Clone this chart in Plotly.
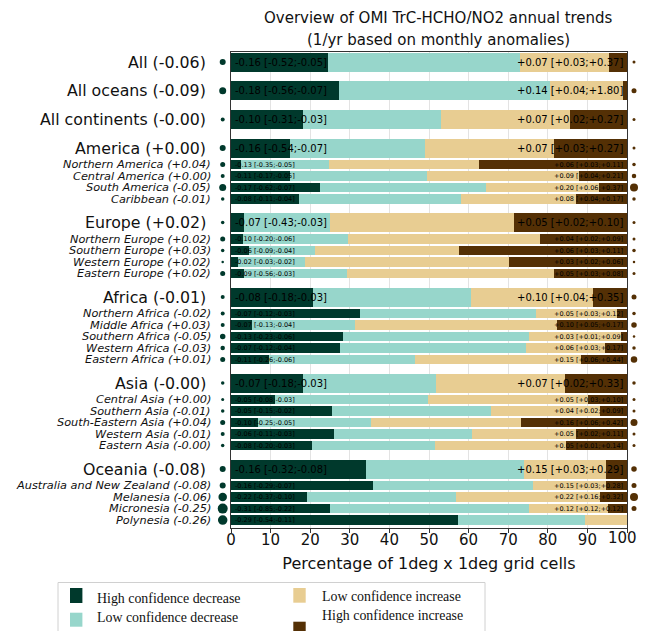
import plotly.graph_objects as go

# ---------------- data ----------------
region_labels = [
    "All (-0.06)", "All oceans (-0.09)", "All continents (-0.00)",
    "America (+0.00)", "Northern America (+0.04)", "Central America (+0.00)",
    "South America (-0.05)", "Caribbean (-0.01)",
    "Europe (+0.02)", "Northern Europe (+0.02)", "Southern Europe (+0.03)",
    "Western Europe (+0.02)", "Eastern Europe (+0.02)",
    "Africa (-0.01)", "Northern Africa (-0.02)", "Middle Africa (+0.03)",
    "Southern Africa (-0.05)", "Western Africa (-0.03)", "Eastern Africa (+0.01)",
    "Asia (-0.00)", "Central Asia (+0.00)", "Southern Asia (-0.01)",
    "South-Eastern Asia (+0.04)", "Western Asia (-0.01)", "Eastern Asia (-0.00)",
    "Oceania (-0.08)", "Australia and New Zealand (-0.08)", "Melanesia (-0.06)",
    "Micronesia (-0.25)", "Polynesia (-0.26)",
]
# 0 = aggregate region, 1 = sub-region
region_level = [0, 0, 0,
                0, 1, 1, 1, 1,
                0, 1, 1, 1, 1,
                0, 1, 1, 1, 1, 1,
                0, 1, 1, 1, 1, 1,
                0, 1, 1, 1, 1]

# percentage of grid cells in each class
high_conf_decrease = [24.6, 27.2, 18.2, 14.9, 2.6, 14.9, 22.4, 17.1,
                      3.3, 3.0, 4.5, 1.8, 3.2,
                      20.6, 32.6, 5.4, 28.2, 27.4, 9.5,
                      18.2, 11.2, 25.6, 6.8, 26.1, 20.4,
                      34.0, 35.8, 19.2, 25.0, 57.2]
low_conf_decrease = [48.4, 53.3, 34.8, 34.1, 22.1, 34.6, 41.9, 40.9,
                     21.6, 26.5, 16.7, 16.9, 26.1,
                     40.1, 44.3, 26.0, 47.0, 47.1, 37.0,
                     33.6, 38.5, 40.0, 28.6, 34.8, 31.2,
                     39.9, 40.4, 37.5, 50.2, 32.2]
low_conf_increase = [22.4, 18.5, 32.5, 32.6, 37.8, 38.3, 28.6, 29.2,
                     46.6, 48.5, 36.3, 51.5, 52.2,
                     30.8, 20.6, 50.8, 23.3, 20.0, 41.9,
                     32.5, 40.5, 27.7, 37.9, 26.1, 32.9,
                     20.7, 18.4, 36.4, 20.0, 10.6]
high_conf_increase = [4.6, 1.0, 14.5, 18.4, 37.5, 12.2, 7.1, 12.8,
                      28.5, 22.0, 42.5, 29.8, 18.5,
                      8.5, 2.5, 17.8, 1.5, 5.5, 11.6,
                      15.7, 9.8, 6.7, 26.7, 13.0, 15.5,
                      5.4, 5.4, 6.9, 4.8, 0.0]

decrease_text = [
    "-0.16 [-0.52;-0.05]", "-0.18 [-0.56;-0.07]", "-0.10 [-0.31;-0.03]",
    "-0.16 [-0.54;-0.07]", "-0.13 [-0.35;-0.05]", "-0.11 [-0.17;-0.05]",
    "-0.17 [-0.62;-0.07]", "-0.08 [-0.11;-0.04]",
    "-0.07 [-0.43;-0.03]", "-0.10 [-0.20;-0.06]", "-0.06 [-0.09;-0.04]",
    "-0.02 [-0.03;-0.02]", "-0.09 [-0.56;-0.03]",
    "-0.08 [-0.18;-0.03]", "-0.07 [-0.12;-0.03]", "-0.07 [-0.13;-0.04]",
    "-0.13 [-0.23;-0.06]", "-0.07 [-0.12;-0.04]", "-0.11 [-0.26;-0.06]",
    "-0.07 [-0.18;-0.03]", "-0.05 [-0.08;-0.03]", "-0.05 [-0.15;-0.02]",
    "-0.10 [-0.25;-0.05]", "-0.06 [-0.11;-0.03]", "-0.08 [-0.20;-0.03]",
    "-0.16 [-0.32;-0.08]", "-0.16 [-0.29;-0.07]", "-0.22 [-0.37;-0.10]",
    "-0.31 [-0.85;-0.22]", "-0.29 [-0.54;-0.11]",
]
increase_text = [
    "+0.07 [+0.03;+0.37]", "+0.14 [+0.04;+1.80]", "+0.07 [+0.02;+0.27]",
    "+0.07 [+0.03;+0.27]", "+0.06 [+0.03;+0.11]", "+0.09 [+0.04;+0.21]",
    "+0.20 [+0.06;+0.37]", "+0.08 [+0.04;+0.17]",
    "+0.05 [+0.02;+0.10]", "+0.04 [+0.02;+0.09]", "+0.06 [+0.03;+0.11]",
    "+0.03 [+0.02;+0.06]", "+0.05 [+0.03;+0.08]",
    "+0.10 [+0.04;+0.35]", "+0.05 [+0.03;+0.12]", "+0.10 [+0.05;+0.17]",
    "+0.03 [+0.01;+0.09]", "+0.06 [+0.03;+0.17]", "+0.15 [+0.06;+0.44]",
    "+0.07 [+0.02;+0.33]", "+0.05 [+0.03;+0.10]", "+0.04 [+0.02;+0.09]",
    "+0.16 [+0.06;+0.42]", "+0.05 [+0.02;+0.11]", "+0.05 [+0.01;+0.14]",
    "+0.15 [+0.03;+0.29]", "+0.15 [+0.03;+0.28]", "+0.22 [+0.16;+0.32]",
    "+0.12 [+0.12;+0.12]", "",
]
# dot diameters (px)
decrease_dot = [6, 7, 4, 6, 5, 4, 7, 3.5,
                3.5, 5, 3.5, 2.5, 5,
                4, 4, 4, 5.5, 4.5, 5,
                3.5, 3, 3.5, 5, 4, 3.5,
                6, 6, 8.5, 10, 9.5]
increase_dot = [3, 5, 3, 3, 3.5, 4.5, 8, 3.5,
                3, 3, 3.5, 2.5, 3,
                5, 3.5, 5.5, 2.5, 3.5, 6.5,
                3.5, 3, 3, 7, 3, 3,
                5.5, 5, 8, 5, 0]

x_ticks = [0, 10, 20, 30, 40, 50, 60, 70, 80, 90, 100]
x_tick_labels = [str(v) for v in x_ticks]

# ---------------- styling / layout ----------------
C_HCD = "#00392c"
C_LCD = "#97d6cb"
C_LCI = "#e8cd92"
C_HCI = "#543005"
FONT = "DejaVu Sans"

OFF = 8                      # page margin of the html body
W, H = 646 - 2 * OFF, 631 - OFF  # figure size (width is bound to the body width)
PL, PR, PT, PB = 231, 627, 52, 528   # plot area in page pixels
PW, PH = PR - PL, PB - PT


def px_x(px):
    return (px - PL) / PW


def px_y(py):
    return (PB - py) / PH


# row positions (in pixel-like units; axis reversed)
gaps = {(0, 0): 28.7, (0, 1): 16.5, (1, 1): 11.5, (1, 0): 23.5}
ypos = []
cur = 62.0
for i, lev in enumerate(region_level):
    if i > 0:
        cur += gaps[(region_level[i - 1], lev)]
    ypos.append(cur)
widths = [19 if lev == 0 else 9.3 for lev in region_level]

fig = go.Figure()
for vals, col, name in [(high_conf_decrease, C_HCD, "High confidence decrease"),
                        (low_conf_decrease, C_LCD, "Low confidence decrease"),
                        (low_conf_increase, C_LCI, "Low confidence increase"),
                        (high_conf_increase, C_HCI, "High confidence increase")]:
    fig.add_trace(go.Bar(x=vals, y=ypos, width=widths, orientation="h",
                         marker=dict(color=col, line=dict(width=0)),
                         name=name, showlegend=False, hoverinfo="skip"))

shapes = []
# dots beside the bars
for i, y in enumerate(ypos):
    for xpx, d, col in [(222.7, decrease_dot[i], C_HCD), (634.0, increase_dot[i], C_HCI)]:
        if d <= 0:
            continue
        shapes.append(dict(type="circle", xref="paper", yref="paper",
                           xsizemode="pixel", ysizemode="pixel",
                           xanchor=px_x(xpx), yanchor=px_y(y),
                           x0=-d / 2, x1=d / 2, y0=-d / 2, y1=d / 2,
                           fillcolor=col, line=dict(width=0), layer="above"))

ann = []
for i, lab in enumerate(region_labels):
    main = region_level[i] == 0
    ann.append(dict(x=px_x(208 if main else 213), xref="paper", y=ypos[i], yref="y",
                    text=lab if main else "<i>" + lab + "</i>",
                    xanchor="right", yanchor="middle", showarrow=False,
                    font=dict(family=FONT, size=15.8 if main else 11.3, color="#111")))
    fs = 10 if main else 6.5
    ann.append(dict(x=0.4, xref="x", y=ypos[i], yref="y", text=decrease_text[i],
                    xanchor="left", yanchor="middle", showarrow=False,
                    font=dict(family=FONT, size=fs, color="#000")))
    if increase_text[i]:
        ann.append(dict(x=99.4, xref="x", y=ypos[i], yref="y", text=increase_text[i],
                        xanchor="right", yanchor="middle", showarrow=False,
                        font=dict(family=FONT, size=fs, color="#000")))

# the last tick label would overflow the page edge: draw it right-aligned instead
last_tick_label = x_tick_labels[-1]
x_tick_labels[-1] = ""
ann.append(dict(x=px_x(638), xref="paper", y=px_y(537.5), yref="paper",
                text=last_tick_label, showarrow=False, xanchor="right", yanchor="middle",
                borderpad=0, font=dict(family=FONT, size=15, color="#111")))

# title
ann.append(dict(x=px_x(438), xref="paper", y=px_y(18), yref="paper",
                text="Overview of OMI TrC-HCHO/NO2 annual trends", showarrow=False,
                xanchor="center", yanchor="middle",
                font=dict(family=FONT, size=15, color="#111")))
ann.append(dict(x=px_x(438), xref="paper", y=px_y(40), yref="paper",
                text="(1/yr based on monthly anomalies)", showarrow=False,
                xanchor="center", yanchor="middle",
                font=dict(family=FONT, size=15, color="#111")))

# legend (drawn manually)
shapes.append(dict(type="rect", xref="paper", yref="paper",
                   x0=px_x(58), x1=px_x(485), y0=px_y(660), y1=px_y(582.5),
                   line=dict(color="#d0d0d0", width=1), fillcolor="white", layer="above"))
legend_items = [
    (C_HCD, "High confidence decrease", 70, 588, 603, 95, 598),
    (C_LCD, "Low confidence decrease", 70, 612.7, 626.7, 95, 617),
    (C_LCI, "Low confidence increase", 293.3, 588, 602.7, 319.5, 596.7),
    (C_HCI, "High confidence increase", 293.3, 621.7, 636, 319.5, 615.7),
]
for col, txt, sx, sy0, sy1, tx, ty in legend_items:
    shapes.append(dict(type="rect", xref="paper", yref="paper",
                       x0=px_x(sx), x1=px_x(sx + 12.4), y0=px_y(sy1), y1=px_y(sy0),
                       line=dict(width=0), fillcolor=col, layer="above"))
    ann.append(dict(x=px_x(tx), xref="paper", y=px_y(ty), yref="paper", text=txt,
                    xanchor="left", yanchor="middle", showarrow=False,
                    font=dict(family="Liberation Serif", size=13.9, color="#111")))

fig.update_layout(
    width=W, height=H, autosize=False,
    margin=dict(l=PL - OFF, r=W - (PR - OFF), t=PT - OFF, b=H - (PB - OFF), pad=0,
                autoexpand=False),
    paper_bgcolor="white", plot_bgcolor="white",
    barmode="stack", bargap=0,
    annotations=ann, shapes=shapes, showlegend=False,
    xaxis=dict(range=[0, 100], tickvals=x_ticks, ticktext=x_tick_labels,
               showgrid=True, gridcolor="#e3e3e3", gridwidth=1, zeroline=False,
               showline=True, linecolor="#333", linewidth=1.2, mirror=True,
               ticks="outside", ticklen=4, tickcolor="#333", ticklabelstandoff=-6,
               ticklabeloverflow="allow", automargin=False,
               tickfont=dict(family=FONT, size=15, color="#111"),
               title=dict(text="Percentage of 1deg x 1deg grid cells",
                          font=dict(family=FONT, size=16, color="#111"), standoff=9)),
    yaxis=dict(range=[528, 52], showticklabels=False, showgrid=False, zeroline=False,
               showline=True, linecolor="#333", linewidth=1.2, mirror=True, ticks="",
               automargin=False),
)

fig.write_html("out.html")
